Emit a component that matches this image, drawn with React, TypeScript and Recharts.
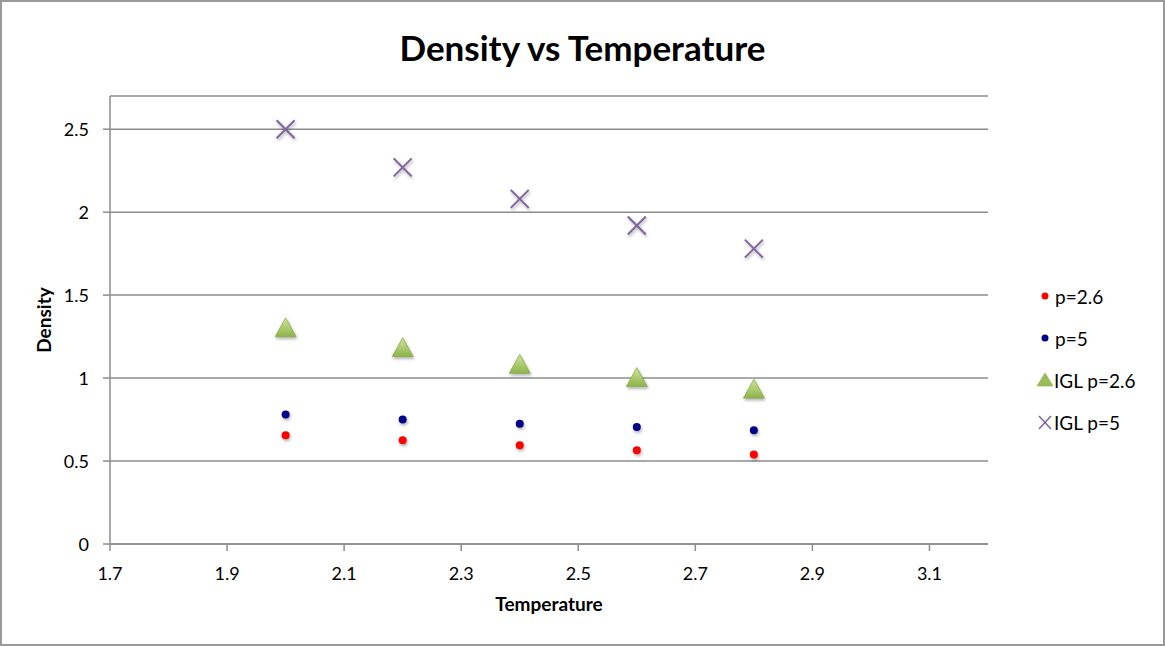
import React from 'react';
import { ScatterChart, Scatter, XAxis, YAxis, CartesianGrid } from 'recharts';

const temperatures = [2.0, 2.2, 2.4, 2.6, 2.8];
const densityP26 = [0.655, 0.625, 0.595, 0.565, 0.54];
const densityP5 = [0.78, 0.75, 0.725, 0.705, 0.685];
const iglP26 = [1.3, 1.18, 1.08, 1.0, 0.93];
const iglP5 = [2.5, 2.27, 2.08, 1.92, 1.78];

const xTicks = [1.7, 1.9, 2.1, 2.3, 2.5, 2.7, 2.9, 3.1];
const yTicks = [0, 0.5, 1, 1.5, 2, 2.5];

const toPoints = (ys: number[]) => temperatures.map((t, i) => ({ x: t, y: ys[i] }));

const FONT = 'Lato, "Open Sans", sans-serif';
const AXIS_GRAY = '#8c8c8c';
const shadow = { filter: 'drop-shadow(1px 2px 1.5px rgba(0,0,0,0.3))' };

const Dot = (color: string) => (props: any) => {
  const { cx, cy } = props;
  if (cx == null || cy == null) return null;
  return <circle cx={cx} cy={cy} r={4} fill={color} style={shadow} />;
};

const Triangle = (props: any) => {
  const { cx, cy } = props;
  if (cx == null || cy == null) return null;
  const s = 10.5;
  return (
    <g style={shadow}>
      <defs>
        <linearGradient id="triFill" x1="0" y1="0" x2="0" y2="1">
          <stop offset="0%" stopColor="#cfe59e" />
          <stop offset="100%" stopColor="#8db347" />
        </linearGradient>
      </defs>
      <polygon
        points={`${cx},${cy - s} ${cx + s},${cy + s * 0.8} ${cx - s},${cy + s * 0.8}`}
        fill="url(#triFill)"
        stroke="#8aae4a"
        strokeWidth={0.8}
        strokeLinejoin="round"
      />
    </g>
  );
};

const Cross = (props: any) => {
  const { cx, cy } = props;
  if (cx == null || cy == null) return null;
  const s = 9;
  return (
    <g style={shadow} stroke="#8064a2" strokeWidth={2}>
      <line x1={cx - s} y1={cy - s} x2={cx + s} y2={cy + s} />
      <line x1={cx - s} y1={cy + s} x2={cx + s} y2={cy - s} />
    </g>
  );
};

// tick labels drawn by hand so size and spacing match the original
const XTick = (props: any) => {
  const { x, y, payload } = props;
  return (
    <text x={x} y={y} dy={27} textAnchor="middle" fontSize={18} fontFamily={FONT} fill="#000">
      {Number(payload.value).toFixed(1)}
    </text>
  );
};

const YTick = (props: any) => {
  const { x, y, payload } = props;
  return (
    <text x={x} y={y} dx={-12} dy={7} textAnchor="end" fontSize={18} fontFamily={FONT} fill="#000">
      {payload.value}
    </text>
  );
};

const legendItems = [
  { name: 'p=2.6', kind: 'dot', color: '#ff0000' },
  { name: 'p=5', kind: 'dot', color: '#00008b' },
  { name: 'IGL p=2.6', kind: 'tri', color: '#9bbb59' },
  { name: 'IGL p=5', kind: 'cross', color: '#8064a2' },
];

const ChartLegend = () => (
  <svg width={125} height={170} style={{ position: 'absolute', left: 1035, top: 283 }}>
    {legendItems.map((item, i) => {
      const y = 14 + i * 42;
      let marker;
      if (item.kind === 'dot') {
        marker = <circle cx={10} cy={y - 1} r={3.5} fill={item.color} />;
      } else if (item.kind === 'tri') {
        marker = (
          <polygon points={`10,${y - 8} 18,${y + 5} 2,${y + 5}`} fill={item.color} stroke="#8aae4a" strokeWidth={0.6} />
        );
      } else {
        marker = (
          <g stroke={item.color} strokeWidth={1.5}>
            <line x1={4} y1={y - 7} x2={16} y2={y + 6} />
            <line x1={4} y1={y + 6} x2={16} y2={y - 7} />
          </g>
        );
      }
      return (
        <g key={item.name}>
          {marker}
          <text x={item.kind === 'dot' ? 20 : 19} y={y + 7} fontSize={19} fontFamily={FONT} fill="#000">
            {item.name}
          </text>
        </g>
      );
    })}
  </svg>
);

export default function App() {
  return (
    <div
      style={{
        position: 'absolute',
        left: 0,
        top: 0,
        width: 1165,
        height: 646,
        boxSizing: 'border-box',
        border: '2px solid #9a9a9a',
        background: '#fff',
        fontFamily: FONT,
      }}
    >
      <div
        style={{
          position: 'absolute',
          left: 0,
          width: 1161,
          top: 24,
          textAlign: 'center',
          fontSize: 35,
          fontWeight: 700,
          color: '#000',
        }}
      >
        Density vs Temperature
      </div>
      <div style={{ position: 'absolute', left: -2, top: -2 }}>
        <ScatterChart width={1165} height={646} margin={{ top: 96, right: 177, left: 48, bottom: 62 }}>
          <CartesianGrid vertical={false} stroke={AXIS_GRAY} strokeWidth={1.5} />
          <XAxis
            type="number"
            dataKey="x"
            domain={[1.7, 3.2]}
            ticks={xTicks}
            height={40}
            stroke={AXIS_GRAY}
            strokeWidth={1.5}
            tickSize={7}
            tick={<XTick />}
            label={{
              value: 'Temperature',
              position: 'insideBottom',
              offset: -27,
              style: { fill: '#000', fontSize: 19, fontWeight: 700, fontFamily: FONT },
            }}
            allowDataOverflow
          />
          <YAxis
            type="number"
            dataKey="y"
            domain={[0, 2.7]}
            ticks={yTicks}
            width={62}
            stroke={AXIS_GRAY}
            strokeWidth={1.5}
            tickSize={7}
            tick={<YTick />}
            label={{
              value: 'Density',
              angle: -90,
              position: 'insideLeft',
              offset: -4,
              style: { fill: '#000', fontSize: 19, fontWeight: 700, fontFamily: FONT, textAnchor: 'middle' },
            }}
            allowDataOverflow
          />
          <Scatter name="p=2.6" data={toPoints(densityP26)} shape={Dot('#ff0000')} isAnimationActive={false} />
          <Scatter name="p=5" data={toPoints(densityP5)} shape={Dot('#00008b')} isAnimationActive={false} />
          <Scatter name="IGL p=2.6" data={toPoints(iglP26)} shape={Triangle} isAnimationActive={false} />
          <Scatter name="IGL p=5" data={toPoints(iglP5)} shape={Cross} isAnimationActive={false} />
        </ScatterChart>
      </div>
      <div style={{ position: 'absolute', left: -2, top: -2 }}>
        <ChartLegend />
      </div>
    </div>
  );
}
